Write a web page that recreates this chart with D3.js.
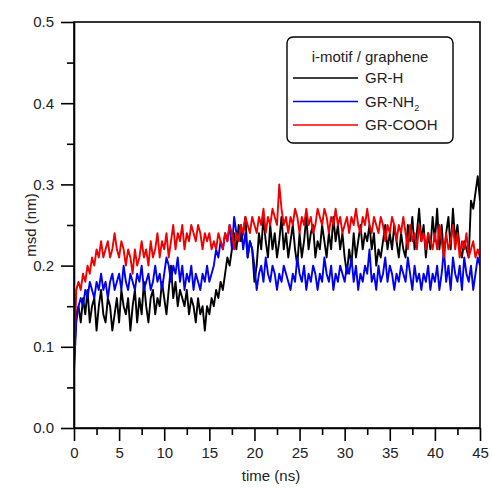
<!DOCTYPE html>
<html>
<head>
<meta charset="utf-8">
<script src="https://cdn.jsdelivr.net/npm/d3@7"></script>
<style>
  body { margin: 0; background: #fff; }
  svg text { font-family: "Liberation Sans", Arial, sans-serif; }
</style>
</head>
<body>
<div id="chart"></div>
<script>
var timeStep = 0.25;

var grH = [
  0.08, 0.14, 0.15, 0.13, 0.16, 0.14, 0.17, 0.13, 0.15, 0.16, 0.12, 0.15, 0.17, 0.14, 0.13, 0.16, 0.15, 0.12, 0.14, 0.16,
  0.13, 0.17, 0.15, 0.14, 0.16, 0.12, 0.15, 0.17, 0.13, 0.16, 0.14, 0.18, 0.15, 0.13, 0.16, 0.17, 0.14, 0.16, 0.15, 0.18,
  0.16, 0.14, 0.17, 0.2, 0.16, 0.18, 0.15, 0.17, 0.16, 0.15, 0.17, 0.14, 0.16, 0.15, 0.13, 0.16, 0.14, 0.15, 0.12, 0.15,
  0.14, 0.16, 0.15, 0.17, 0.16, 0.18, 0.17, 0.19, 0.21, 0.2, 0.22, 0.24, 0.22, 0.25, 0.23, 0.24, 0.26, 0.21, 0.23, 0.22,
  0.18, 0.2, 0.24, 0.22, 0.26, 0.23, 0.21, 0.25, 0.22, 0.24, 0.21, 0.23, 0.26, 0.22, 0.24, 0.21, 0.23, 0.25, 0.22, 0.2,
  0.24, 0.21, 0.23, 0.26, 0.22, 0.24, 0.25, 0.21, 0.23, 0.22, 0.25, 0.23, 0.21, 0.24, 0.22, 0.26, 0.23, 0.25, 0.22, 0.24,
  0.21, 0.19, 0.22, 0.2, 0.24, 0.21, 0.23, 0.25, 0.22, 0.24, 0.23, 0.25, 0.22, 0.24, 0.2, 0.22, 0.21, 0.23, 0.25, 0.22,
  0.24, 0.22, 0.25, 0.23, 0.21, 0.24, 0.22, 0.21, 0.25, 0.23, 0.26, 0.22, 0.24, 0.27, 0.23, 0.25, 0.21, 0.24, 0.22, 0.26,
  0.23, 0.27, 0.22, 0.25, 0.21, 0.24, 0.26, 0.22, 0.27, 0.23, 0.25, 0.22, 0.21, 0.23, 0.22, 0.21, 0.28, 0.27, 0.29, 0.31,
  0.28
];

var grNH2 = [
  0.07, 0.13, 0.15, 0.16, 0.15, 0.17, 0.16, 0.18, 0.17, 0.16, 0.18, 0.17, 0.19, 0.17, 0.18, 0.16, 0.18, 0.19, 0.17, 0.18,
  0.19, 0.17, 0.2, 0.18, 0.17, 0.19, 0.18, 0.17, 0.19, 0.18, 0.2, 0.17, 0.18, 0.19, 0.17, 0.18, 0.2, 0.18, 0.19, 0.17,
  0.19, 0.21, 0.2, 0.18, 0.2, 0.19, 0.21, 0.18, 0.2, 0.17, 0.19, 0.18, 0.2, 0.17, 0.19, 0.18, 0.17, 0.19, 0.18, 0.2,
  0.18, 0.19, 0.2, 0.22, 0.21, 0.23, 0.22, 0.24, 0.23, 0.25, 0.22, 0.26, 0.24, 0.23, 0.25, 0.22, 0.24, 0.21, 0.23, 0.22,
  0.2, 0.17, 0.19, 0.2, 0.18, 0.21, 0.19, 0.18, 0.2, 0.19, 0.17, 0.19, 0.18, 0.2, 0.19, 0.18, 0.17, 0.19, 0.18, 0.21,
  0.19, 0.18, 0.2, 0.17, 0.19, 0.18, 0.2, 0.19, 0.17, 0.19, 0.18, 0.21, 0.19, 0.18, 0.2, 0.17, 0.19, 0.18, 0.2, 0.19,
  0.18, 0.2, 0.19, 0.21, 0.18, 0.2, 0.17, 0.19, 0.18, 0.2, 0.19, 0.22, 0.18, 0.19, 0.17, 0.2, 0.18, 0.19, 0.21, 0.18,
  0.2, 0.19, 0.17, 0.19, 0.18, 0.2, 0.19, 0.18, 0.21, 0.19, 0.17, 0.2, 0.18, 0.19, 0.17, 0.19, 0.18, 0.2, 0.17, 0.19,
  0.18, 0.2, 0.17, 0.19, 0.22, 0.18, 0.2, 0.17, 0.21, 0.19, 0.18, 0.2, 0.17, 0.21, 0.19, 0.18, 0.2, 0.17, 0.19, 0.21,
  0.2
];

var grCOOH = [
  0.08, 0.17, 0.18, 0.17, 0.19, 0.18, 0.2, 0.19, 0.21, 0.2, 0.22, 0.21, 0.23, 0.21, 0.22, 0.23, 0.21, 0.22, 0.24, 0.22,
  0.21, 0.23, 0.22, 0.2, 0.22, 0.21, 0.19, 0.22, 0.2, 0.21, 0.23, 0.21, 0.22, 0.2, 0.23, 0.21, 0.22, 0.24, 0.21, 0.23,
  0.22, 0.24, 0.21, 0.23, 0.25, 0.22, 0.24, 0.23, 0.25, 0.22, 0.24, 0.23, 0.25, 0.24, 0.23, 0.25, 0.24, 0.22, 0.24, 0.23,
  0.24, 0.22, 0.23, 0.22, 0.24, 0.23, 0.22, 0.24, 0.23, 0.25, 0.24, 0.22, 0.24, 0.23, 0.25, 0.24, 0.26, 0.25, 0.24, 0.26,
  0.25, 0.24, 0.26, 0.25, 0.27, 0.24, 0.26, 0.25, 0.27, 0.26, 0.25, 0.3, 0.27, 0.25, 0.26, 0.24, 0.26, 0.25, 0.27, 0.26,
  0.24, 0.26, 0.25, 0.27, 0.25, 0.26, 0.24, 0.25, 0.27, 0.26, 0.25, 0.27, 0.26, 0.24, 0.26, 0.25, 0.27, 0.25, 0.26, 0.24,
  0.25, 0.26, 0.24, 0.26, 0.25, 0.27, 0.25, 0.24, 0.26, 0.25, 0.27, 0.25, 0.24, 0.26, 0.25, 0.24, 0.26, 0.25, 0.23, 0.25,
  0.24, 0.26, 0.25, 0.23, 0.25, 0.24, 0.26, 0.24, 0.22, 0.25, 0.23, 0.24, 0.22, 0.25, 0.23, 0.24, 0.22, 0.24, 0.23, 0.22,
  0.24, 0.22, 0.25, 0.23, 0.21, 0.24, 0.22, 0.23, 0.25, 0.22, 0.24, 0.21, 0.23, 0.22, 0.24, 0.21, 0.22, 0.23, 0.21, 0.22,
  0.21
];

var seriesNames = ["GR-H", "GR-NH2", "GR-COOH"];
var seriesColors = ["#000000", "#0000f0", "#f00000"];
var xTicks = [0, 5, 10, 15, 20, 25, 30, 35, 40, 45];
var yTicks = [0.0, 0.1, 0.2, 0.3, 0.4, 0.5];

var margin = { top: 22, right: 12, bottom: 60, left: 74 };
var width = 492 - margin.left - margin.right;
var height = 488 - margin.top - margin.bottom;

var svg = d3.select("#chart")
  .append("svg")
  .attr("width", 492)
  .attr("height", 488);

var g = svg.append("g")
  .attr("transform", "translate(" + margin.left + "," + margin.top + ")");

var x = d3.scaleLinear().domain([0, 45]).range([0, width]);
var y = d3.scaleLinear().domain([0, 0.5]).range([height, 0]);

// clip the lines to the frame
g.append("clipPath").attr("id", "clip")
  .append("rect").attr("width", width).attr("height", height);

var line = d3.line()
  .x(function (d, i) { return x(i * timeStep); })
  .y(function (d) { return y(d); });

var allSeries = [grH, grNH2, grCOOH];
g.append("g").attr("clip-path", "url(#clip)")
  .selectAll(".line")
  .data(allSeries)
  .enter().append("path")
  .attr("class", "line")
  .attr("fill", "none")
  .attr("stroke", function (d, i) { return seriesColors[i]; })
  .attr("stroke-width", 1.9)
  .attr("stroke-linejoin", "round")
  .attr("d", line);

// minor ticks first (shorter), then major axes
var xMinor = d3.axisBottom(x).tickValues(d3.range(2.5, 45, 5)).tickSize(7).tickFormat("");
var yMinor = d3.axisLeft(y).tickValues(d3.range(0.05, 0.5, 0.1)).tickSize(7).tickFormat("");

g.append("g").attr("transform", "translate(0," + height + ")").call(xMinor)
  .call(function (s) { s.select(".domain").remove(); })
  .selectAll("line").attr("stroke-width", 1.6);
g.append("g").call(yMinor)
  .call(function (s) { s.select(".domain").remove(); })
  .selectAll("line").attr("stroke-width", 1.6);

var xAxis = d3.axisBottom(x).tickValues(xTicks).tickSize(13).tickSizeOuter(0).tickPadding(6)
  .tickFormat(d3.format("d"));
var yAxis = d3.axisLeft(y).tickValues(yTicks).tickSize(13).tickSizeOuter(0).tickPadding(7)
  .tickFormat(d3.format(".1f"));

var xg = g.append("g").attr("transform", "translate(0," + height + ")").call(xAxis);
var yg = g.append("g").call(yAxis);
[xg, yg].forEach(function (a) {
  a.selectAll("line").attr("stroke-width", 1.6);
  a.select(".domain").attr("stroke-width", 1.6);
  a.selectAll("text").attr("font-size", 15).attr("fill", "#222");
});

// top and right frame
g.append("rect")
  .attr("width", width).attr("height", height)
  .attr("fill", "none").attr("stroke", "#000").attr("stroke-width", 1.6);

// axis labels
g.append("text")
  .attr("x", width / 2 - 6).attr("y", height + 53)
  .attr("text-anchor", "middle").attr("font-size", 15).attr("fill", "#222")
  .text("time (ns)");

g.append("text")
  .attr("transform", "translate(" + (-38) + "," + (height / 2) + ") rotate(-90)")
  .attr("text-anchor", "middle").attr("font-size", 15).attr("fill", "#222")
  .text("msd (nm)");

// legend
var legend = g.append("g").attr("transform", "translate(" + (287 - margin.left) + "," + (37 - margin.top) + ")");
legend.append("rect")
  .attr("width", 166).attr("height", 106).attr("rx", 6)
  .attr("fill", "#fff").attr("stroke", "#000").attr("stroke-width", 1.4);
legend.append("text")
  .attr("x", 83).attr("y", 25).attr("text-anchor", "middle")
  .attr("font-size", 15).attr("fill", "#222")
  .text("i-motif / graphene");

seriesNames.forEach(function (name, i) {
  var ly = 41 + i * 23.5;
  legend.append("line")
    .attr("x1", 6).attr("x2", 71).attr("y1", ly).attr("y2", ly)
    .attr("stroke", seriesColors[i]).attr("stroke-width", 1.5);
  var t = legend.append("text")
    .attr("x", 78).attr("y", ly + 5).attr("font-size", 15).attr("fill", "#222");
  if (name === "GR-NH2") {
    t.append("tspan").text("GR-NH");
    t.append("tspan").attr("font-size", 9).attr("dy", 4).text("2");
  } else {
    t.text(name);
  }
});
</script>
</body>
</html>
